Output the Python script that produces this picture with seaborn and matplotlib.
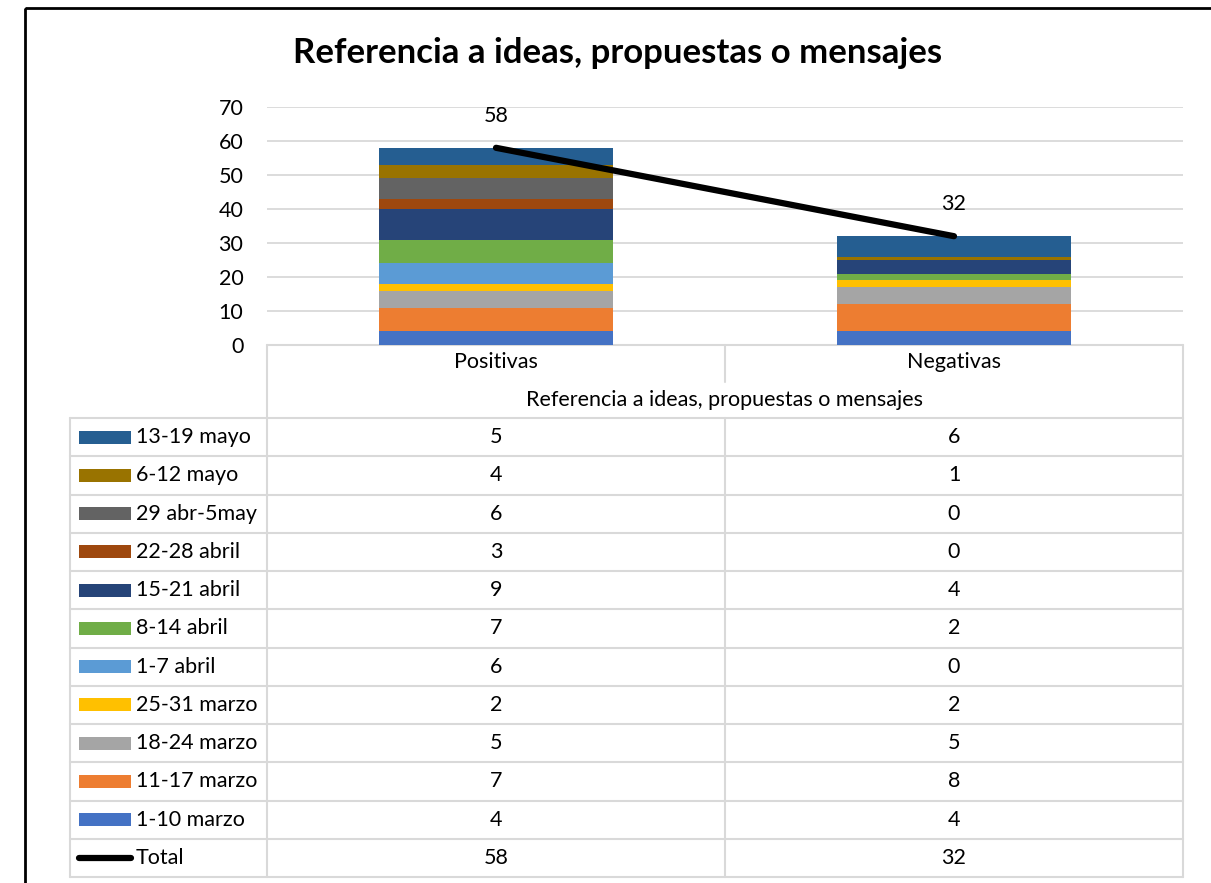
import matplotlib
matplotlib.use("Agg")
import matplotlib.pyplot as plt
from matplotlib.patches import Rectangle
import numpy as np
import seaborn as sns

# Datos del gráfico
categorias = ["Positivas", "Negativas"]
semanas = ["1-10 marzo", "11-17 marzo", "18-24 marzo", "25-31 marzo", "1-7 abril",
           "8-14 abril", "15-21 abril", "22-28 abril", "29 abr-5may", "6-12 mayo",
           "13-19 mayo"]
positivas = [4, 7, 5, 2, 6, 7, 9, 3, 6, 4, 5]
negativas = [4, 8, 5, 2, 0, 2, 4, 0, 0, 1, 6]
totales = [58, 32]
colores = ["#4472C4", "#ED7D31", "#A5A5A5", "#FFC000", "#5B9BD5", "#70AD47",
           "#264478", "#9E480E", "#636363", "#997300", "#255E91"]
titulo = "Referencia a ideas, propuestas o mensajes"

sns.set_style("white")
plt.rcParams["font.family"] = ["Lato", "DejaVu Sans"]
plt.rcParams["text.color"] = "black"
plt.rcParams["ytick.color"] = "black"

W, H = 1211, 883
fs = 15.5
fig = plt.figure(figsize=(W / 100, H / 100), dpi=100)

# capa de fondo en coordenadas de píxel para la tabla, el título y el marco
ax_t = fig.add_axes([0, 0, 1, 1])
ax_t.set_xlim(0, W)
ax_t.set_ylim(H, 0)
ax_t.axis("off")

# área de la gráfica
x0, x1, ytop, ybot = 267, 1183, 107, 345
ax = fig.add_axes([x0 / W, (H - ybot) / H, (x1 - x0) / W, (ybot - ytop) / H])
ax.patch.set_alpha(0)

base = np.zeros(len(categorias))
for i, sem in enumerate(semanas):
    vals = np.array([positivas[i], negativas[i]])
    sns.barplot(x=categorias, y=vals, bottom=base, color=colores[i], width=0.51,
                saturation=1, edgecolor="none", ax=ax)
    base = base + vals

xs = np.arange(len(categorias))
ax.plot(xs, totales, color="black", lw=4.5, solid_capstyle="round", zorder=5)
for xv, t in zip(xs, totales):
    ax.annotate(str(t), (xv, t), xytext=(0, 16), textcoords="offset points",
                ha="center", va="bottom", fontsize=fs)

ax.set_ylim(0, 70)
ax.set_xlim(-0.5, len(categorias) - 0.5)
ax.set_yticks(range(0, 71, 10))
ax.yaxis.grid(True, color="#D9D9D9", lw=1.3)
ax.set_axisbelow(True)
for s in ["top", "right", "left", "bottom"]:
    ax.spines[s].set_visible(False)
ax.set_xticks([])
ax.set_xlabel("")
ax.set_ylabel("")
ax.tick_params(axis="y", length=0, pad=17, labelsize=fs, labelcolor="black")

# título
ax_t.text(618, 53, titulo, ha="center", va="center", fontsize=25, fontweight="bold")

# marco
ax_t.add_patch(Rectangle((25, 8), 1300, 1000, fill=False, ec="black", lw=2))

# tabla de datos
gc = "#D9D9D9"
tl, c1, c2, tr = 70, 267, 725, 1183
hdr_bot = 418
row_h = (877 - hdr_bot) / 12
tb = hdr_bot + row_h * 12
lw = 1.5
ax_t.plot([c1, tr], [ybot, ybot], color=gc, lw=lw)
ax_t.plot([c1, c1], [ybot, tb], color=gc, lw=lw)
ax_t.plot([tr, tr], [ybot, tb], color=gc, lw=lw)
ax_t.plot([c2, c2], [ybot, 382], color=gc, lw=lw)
ax_t.plot([c2, c2], [hdr_bot, tb], color=gc, lw=lw)
ax_t.plot([tl, tl], [hdr_bot, tb], color=gc, lw=lw)
for r in range(13):
    yy = hdr_bot + r * row_h
    ax_t.plot([tl, tr], [yy, yy], color=gc, lw=lw)

cx = [(c1 + c2) / 2, (c2 + tr) / 2]
for xv, cat in zip(cx, categorias):
    ax_t.text(xv, 362, cat, ha="center", va="center", fontsize=fs)
ax_t.text(c2, 400, titulo, ha="center", va="center", fontsize=fs)

filas = list(zip(semanas, positivas, negativas, colores))[::-1]
for r, (sem, p, n, col) in enumerate(filas):
    yc = hdr_bot + (r + 0.5) * row_h
    ax_t.add_patch(Rectangle((79, yc - 6.5), 52, 13, color=col, lw=0))
    ax_t.text(136, yc, sem, ha="left", va="center", fontsize=fs)
    ax_t.text(cx[0], yc, str(p), ha="center", va="center", fontsize=fs)
    ax_t.text(cx[1], yc, str(n), ha="center", va="center", fontsize=fs)

yc = hdr_bot + 11.5 * row_h
ax_t.plot([79, 131], [yc, yc], color="black", lw=4.5, solid_capstyle="round")
ax_t.text(136, yc, "Total", ha="left", va="center", fontsize=fs)
for xv, t in zip(cx, totales):
    ax_t.text(xv, yc, str(t), ha="center", va="center", fontsize=fs)

fig.savefig("out.png", dpi=100)
